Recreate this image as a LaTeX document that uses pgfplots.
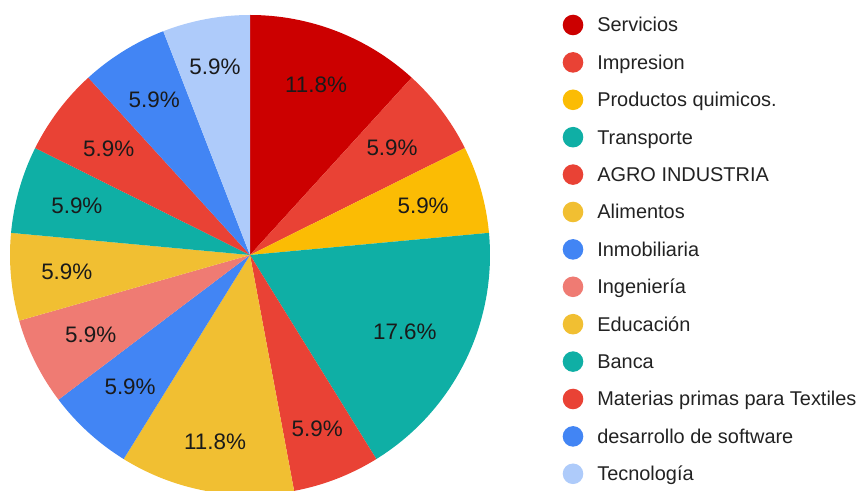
\documentclass[border=0pt]{standalone}
\usepackage{fontspec}
\setmainfont{Liberation Sans}
\usepackage{pgfplots}
\usepackage{pgfplotstable}
\pgfplotsset{compat=1.18}
\definecolor{cServ}{HTML}{CC0000}
\definecolor{cRed}{HTML}{E94235}
\definecolor{cYel}{HTML}{FBBC04}
\definecolor{cTeal}{HTML}{0FAFA5}
\definecolor{cGold}{HTML}{F1BF32}
\definecolor{cBlue}{HTML}{4285F4}
\definecolor{cSalm}{HTML}{EF7B73}
\definecolor{cLight}{HTML}{AECBFA}
\definecolor{labtxt}{HTML}{1A1A1A}
\definecolor{legtxt}{HTML}{222222}
\tikzset{pielab/.style={font=\fontsize{22.5}{26}\selectfont, text=labtxt, inner sep=0pt}}

% name, count, printed percentage, colour, label distance from centre (px)
\pgfplotstableread[col sep=comma]{
name,n,pct,col,lr
Servicios,2,11.8,cServ,183
Impresion,1,5.9,cRed,178
Productos quimicos.,1,5.9,cYel,180
Transporte,3,17.6,cTeal,173
AGRO INDUSTRIA,1,5.9,cRed,186
Alimentos,2,11.8,cGold,190
Inmobiliaria,1,5.9,cBlue,178
Ingeniería,1,5.9,cSalm,178
Educación,1,5.9,cGold,184
Banca,1,5.9,cTeal,180
Materias primas para Textiles,1,5.9,cRed,177
desarrollo de software,1,5.9,cBlue,182
Tecnología,1,5.9,cLight,191
}\piedata

\begin{document}
\begin{tikzpicture}
\begin{axis}[
  scale only axis, width=861bp, height=491bp,
  xmin=0, xmax=861, ymin=0, ymax=491,
  hide axis, clip=false,
  legend image code/.code={\fill[#1] (10.3bp,2bp) circle[radius=10.3bp];},
  legend cell align=left,
  legend style={at={(axis cs:562.7,476.3)}, anchor=north west, draw=none, fill=none,
    inner sep=0pt, outer sep=0pt, row sep=15.1bp, column sep=14bp,
    font=\fontsize{20}{24}\selectfont,
    nodes={inner sep=0pt, text=legtxt, text height=15bp, text depth=5bp}},
]
\coordinate (LL) at (axis cs:0,0);
\coordinate (UR) at (axis cs:861,491);
\pgfplotstablegetrowsof{\piedata}
\pgfmathtruncatemacro{\nrows}{\pgfplotsretval-1}
\def\tot{0}
\pgfplotsforeachungrouped \ii in {0,...,\nrows}{%
  \pgfplotstablegetelem{\ii}{n}\of\piedata
  \pgfmathsetmacro{\tot}{\tot+\pgfplotsretval}%
}
\def\cum{90}
\pgfplotsforeachungrouped \ii in {0,...,\nrows}{%
  \pgfplotstablegetelem{\ii}{n}\of\piedata \let\wn\pgfplotsretval
  \pgfplotstablegetelem{\ii}{col}\of\piedata \let\wcol\pgfplotsretval
  \pgfplotstablegetelem{\ii}{name}\of\piedata \let\wnm\pgfplotsretval
  \pgfmathsetmacro{\wa}{\cum}%
  \pgfmathsetmacro{\wb}{\cum-\wn*360/\tot}%
  \edef\cmd{\noexpand\fill[\wcol] (axis cs:250,236) -- ([shift={(\wa:240bp)}]axis cs:250,236) arc[start angle=\wa, end angle=\wb, radius=240bp] -- cycle;%
    \noexpand\addlegendimage{fill=\wcol, draw=none}\noexpand\addlegendentry{\wnm}}%
  \cmd
  \let\cum\wb
}
\def\cum{90}
\pgfplotsforeachungrouped \ii in {0,...,\nrows}{%
  \pgfplotstablegetelem{\ii}{n}\of\piedata \let\wn\pgfplotsretval
  \pgfplotstablegetelem{\ii}{pct}\of\piedata \let\wp\pgfplotsretval
  \pgfplotstablegetelem{\ii}{lr}\of\piedata \let\wr\pgfplotsretval
  \pgfmathsetmacro{\wb}{\cum-\wn*360/\tot}%
  \pgfmathsetmacro{\wm}{(\cum+\wb)/2}%
  \edef\cmd{\noexpand\node[pielab] at ([shift={(\wm:\wr bp)}]axis cs:250,236) {\wp\noexpand\%};}%
  \cmd
  \let\cum\wb
}
\end{axis}
\pgfresetboundingbox
\path (LL) rectangle (UR);
\end{tikzpicture}
\end{document}
